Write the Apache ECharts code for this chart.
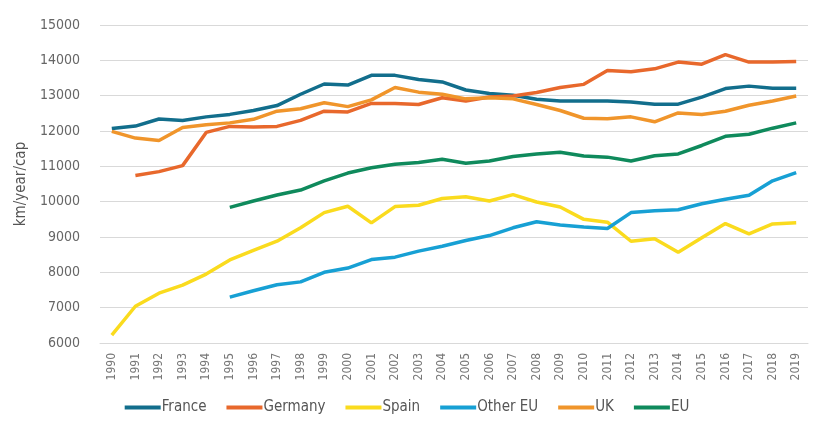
<!DOCTYPE html>
<html>
<head>
<meta charset="utf-8">
<script src="https://cdn.jsdelivr.net/npm/echarts@6/dist/echarts.min.js"></script>
<style>
html,body{margin:0;padding:0;background:#fff;}
#chart{width:814px;height:432px;}
</style>
</head>
<body>
<div id="chart"></div>
<script>
var years = ['1990','1991','1992','1993','1994','1995','1996','1997','1998','1999','2000','2001','2002','2003','2004','2005','2006','2007','2008','2009','2010','2011','2012','2013','2014','2015','2016','2017','2018','2019'];
var france = [12070,12140,12340,12300,12400,12470,12580,12720,13040,13330,13300,13575,13575,13460,13390,13160,13060,13010,12900,12850,12850,12850,12820,12760,12760,12960,13200,13270,13210,13210];
var germany = [null,10740,10850,11020,11960,12130,12110,12130,12300,12560,12540,12780,12780,12750,12940,12850,12960,12990,13090,13230,13320,13710,13680,13760,13950,13890,14160,13950,13950,13970];
var spain = [6220,7040,7410,7640,7950,8350,8620,8880,9260,9690,9870,9400,9860,9900,10090,10140,10020,10200,9990,9850,9500,9420,8880,8950,8570,8980,9380,9090,9370,9400];
var otherEU = [null,null,null,null,null,7300,7480,7650,7730,8000,8120,8360,8430,8600,8740,8900,9040,9260,9430,9340,9280,9240,9690,9740,9770,9940,10070,10180,10590,10820];
var uk = [11990,11800,11730,12100,12180,12230,12330,12560,12630,12800,12690,12880,13230,13100,13040,12910,12940,12910,12750,12580,12360,12350,12400,12260,12510,12470,12560,12730,12850,12990];
var eu = [null,null,null,null,null,9840,10020,10190,10330,10590,10810,10960,11060,11110,11200,11090,11150,11280,11350,11400,11290,11260,11150,11300,11350,11590,11850,11910,12080,12230];

var names = ['France','Germany','Spain','Other EU','UK','EU'];
var colors = ['#126e8c','#e8682c','#fadb1e','#17a0d4','#f0952b','#0f8a5c'];
var dataSets = [france, germany, spain, otherEU, uk, eu];

var font = '"Liberation Sans Narrow","DejaVu Sans Condensed","Open Sans",sans-serif';
var chart = echarts.init(document.getElementById('chart'));
chart.setOption({
  animation: false,
  color: colors,
  textStyle: {fontFamily: font},
  grid: {left: 100, right: 6, top: 25, bottom: 89},
  legend: {
    bottom: 12,
    left: 'center',
    itemWidth: 36,
    itemHeight: 4,
    itemGap: 20,
    icon: 'rect',
    textStyle: {fontFamily: font, fontSize: 15, color: '#555', padding: [0,0,0,-4]},
    data: names
  },
  xAxis: {
    type: 'category',
    data: years,
    boundaryGap: true,
    axisLine: {lineStyle: {color: '#d9d9d9'}},
    axisTick: {show: false},
    axisLabel: {rotate: 90, color: '#777', fontSize: 12, fontFamily: font, margin: 10, interval: 0}
  },
  yAxis: {
    type: 'value',
    min: 6000,
    max: 15000,
    interval: 1000,
    name: 'km/year/cap',
    nameLocation: 'middle',
    nameGap: 70,
    nameTextStyle: {fontFamily: font, fontSize: 15, color: '#555'},
    axisLine: {show: false},
    axisTick: {show: false},
    axisLabel: {color: '#666', fontSize: 14, fontFamily: font, margin: 20, formatter: function(v){ return String(v); }},
    splitLine: {lineStyle: {color: '#d9d9d9', width: 1}}
  },
  series: dataSets.map(function(d, i){
    return {
      name: names[i],
      type: 'line',
      data: d,
      showSymbol: false,
      symbol: 'none',
      connectNulls: false,
      lineStyle: {width: 3.5, color: colors[i]},
      itemStyle: {color: colors[i]}
    };
  })
});
</script>
</body>
</html>
